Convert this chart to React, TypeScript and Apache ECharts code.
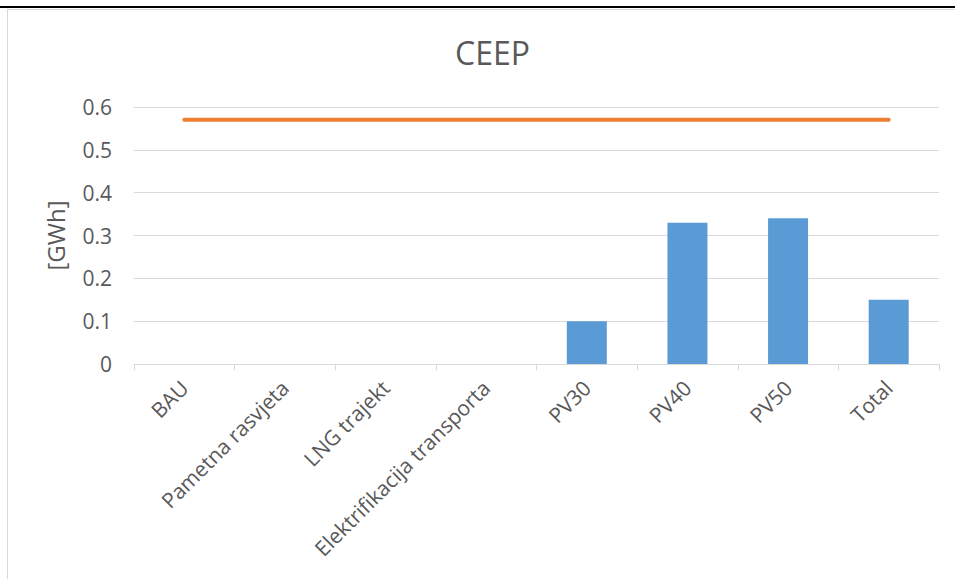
import React, { useEffect, useRef } from "react";
import * as echarts from "echarts";

const categories = [
  "BAU",
  "Pametna rasvjeta",
  "LNG trajekt",
  "Elektrifikacija transporta",
  "PV30",
  "PV40",
  "PV50",
  "Total",
];
const barValues = [0, 0, 0, 0, 0.1, 0.33, 0.34, 0.15];
const lineValues = [0.57, 0.57, 0.57, 0.57, 0.57, 0.57, 0.57, 0.57];
const yTicks = { min: 0, max: 0.6, interval: 0.1 };

const FONT = "'Open Sans', sans-serif";
const TEXT = "#595959";
const GRID = "#d9d9d9";

export default function App() {
  const ref = useRef<HTMLDivElement>(null);

  useEffect(() => {
    if (!ref.current) return;
    const chart = echarts.init(ref.current, undefined, { renderer: "svg" });
    chart.setOption({
      animation: false,
      backgroundColor: "#ffffff",
      textStyle: { fontFamily: FONT },
      title: {
        text: "CEEP",
        left: 450,
        top: 31,
        textStyle: { fontFamily: FONT, fontSize: 32, fontWeight: "normal", color: TEXT },
      },
      graphic: [
        { type: "line", shape: { x1: 8, y1: 9.5, x2: 955, y2: 9.5 }, style: { stroke: GRID, lineWidth: 1 } },
        { type: "line", shape: { x1: 7.5, y1: 9, x2: 7.5, y2: 579 }, style: { stroke: GRID, lineWidth: 1 } },
        { type: "line", shape: { x1: 0, y1: 7, x2: 955, y2: 7 }, style: { stroke: "#000000", lineWidth: 2 } },
      ],
      grid: { left: 134, right: 16, top: 107, bottom: 215 },
      xAxis: {
        type: "category",
        data: categories,
        axisLine: { lineStyle: { color: GRID, width: 1 } },
        axisTick: { show: true, length: 6, lineStyle: { color: GRID } },
        axisLabel: {
          interval: 0,
          rotate: 45,
          margin: 20,
          fontSize: 21,
          color: TEXT,
          fontFamily: FONT,
        },
      },
      yAxis: {
        type: "value",
        min: yTicks.min,
        max: yTicks.max,
        interval: yTicks.interval,
        name: "[GWh]",
        nameLocation: "middle",
        nameGap: 67,
        nameTextStyle: { fontSize: 24, color: TEXT, fontFamily: FONT },
        axisLine: { show: false },
        axisTick: { show: false },
        splitLine: { lineStyle: { color: GRID, width: 1 } },
        axisLabel: {
          margin: 22,
          fontSize: 21,
          color: TEXT,
          fontFamily: FONT,
          formatter: (v: number) => (v === 0 ? "0" : v.toFixed(1)),
        },
      },
      series: [
        {
          type: "bar",
          data: barValues,
          barWidth: 40,
          itemStyle: { color: "#5B9BD5" },
        },
        {
          type: "line",
          data: lineValues,
          symbol: "none",
          lineStyle: { color: "#ED7D31", width: 4, cap: "round" },
        },
      ],
    });
    return () => chart.dispose();
  }, []);

  return (
    <div
      ref={ref}
      style={{ position: "absolute", left: 0, top: 0, width: 955, height: 579 }}
    />
  );
}
